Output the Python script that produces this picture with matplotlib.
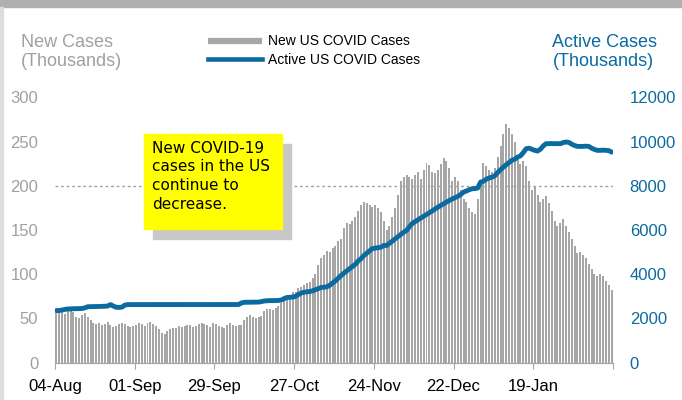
import matplotlib.pyplot as plt
import matplotlib.patches as mpatches
import matplotlib.lines as mlines
import pandas as pd

# daily data, 04-Aug-2020 .. 15-Feb-2021 (thousands)
dates = pd.date_range('2020-08-04', periods=196, freq='D')

new_cases = [
    56, 58, 57, 55, 58, 60, 57,
    52, 50, 54, 56, 52, 48, 45,
    44, 45, 43, 44, 46, 43, 40,
    42, 44, 45, 44, 42, 40, 41,
    43, 45, 44, 42, 45, 46, 44,
    41, 38, 34, 32, 36, 38, 39,
    39, 41, 40, 42, 43, 43, 40,
    41, 44, 45, 44, 43, 40, 45,
    44, 42, 40, 39, 43, 45, 43,
    42, 43, 43, 48, 52, 54, 52,
    51, 52, 53, 58, 61, 61, 60,
    62, 64, 68, 72, 74, 76, 80,
    80, 84, 86, 88, 90, 91, 96,
    100, 110, 118, 122, 126, 125, 130,
    132, 138, 140, 152, 158, 157, 160,
    165, 172, 178, 182, 180, 178, 176,
    178, 175, 170, 160, 150, 155, 165,
    175, 190, 205, 210, 212, 210, 208,
    212, 215, 208, 218, 226, 224, 215,
    214, 218, 225, 231, 228, 220, 205,
    210, 205, 195, 185, 182, 175, 170,
    168, 185, 205, 226, 222, 218, 215,
    220, 232, 245, 258, 270, 265, 258,
    250, 235, 225, 228, 222, 205, 195,
    200, 190, 182, 185, 188, 180, 172,
    160, 155, 158, 162, 155, 148, 140,
    132, 124, 125, 122, 118, 112, 106,
    100, 98, 100, 98, 92, 88, 82,
]

active_cases = [
    2355, 2360, 2380, 2410, 2430, 2430, 2440,
    2440, 2445, 2450, 2480, 2530, 2535, 2535,
    2540, 2540, 2545, 2550, 2560, 2626, 2560,
    2505, 2500, 2510, 2600, 2626, 2626, 2626,
    2626, 2626, 2628, 2626, 2626, 2626, 2626,
    2626, 2626, 2626, 2626, 2626, 2626, 2626,
    2626, 2626, 2626, 2626, 2626, 2626, 2626,
    2626, 2626, 2626, 2626, 2626, 2626, 2626,
    2626, 2626, 2626, 2626, 2626, 2626, 2626,
    2626, 2630, 2700, 2730, 2731, 2735, 2731,
    2735, 2740, 2760, 2790, 2800, 2807, 2805,
    2810, 2815, 2830, 2900, 2950, 2958, 2965,
    3000, 3080, 3150, 3185, 3200, 3220, 3250,
    3300, 3350, 3400, 3411, 3430, 3500, 3600,
    3700, 3820, 3940, 4050, 4150, 4250, 4350,
    4450, 4600, 4700, 4845, 4950, 5050, 5160,
    5180, 5200, 5220, 5300, 5300, 5400, 5500,
    5600, 5700, 5800, 5900, 5977, 6150, 6294,
    6380, 6460, 6540, 6620, 6700, 6780, 6860,
    6950, 7033, 7110, 7190, 7260, 7330, 7400,
    7460, 7520, 7600, 7713, 7760, 7820, 7864,
    7870, 7900, 8165, 8200, 8300, 8350, 8391,
    8450, 8600, 8720, 8844, 8950, 9050, 9150,
    9200, 9297, 9350, 9500, 9675, 9700, 9650,
    9600, 9569, 9650, 9800, 9902, 9902, 9910,
    9902, 9905, 9902, 9950, 9977, 9960, 9880,
    9820, 9780, 9780, 9780, 9790, 9780, 9700,
    9640, 9600, 9600, 9610, 9600, 9590, 9524,
]

tick_labels = ['04-Aug', '01-Sep', '29-Sep', '27-Oct', '24-Nov', '22-Dec', '19-Jan', '']
threshold = 200

gray = '#A6A6A6'
blue = '#0B6A9F'
label_gray = '#A0A0A0'

plt.rcParams['font.family'] = ['Liberation Sans', 'DejaVu Sans']

fig = plt.figure(figsize=(6.82, 4.0), dpi=100)
ax = fig.add_axes([0.0806, 0.0933, 0.8182, 0.6635])
ax2 = ax.twinx()

x = list(range(len(dates)))
ax.bar(x, new_cases, width=0.7, color=gray, zorder=2)
ax.axhline(threshold, color='#A0A0A0', linestyle=(0, (2, 2)), linewidth=1, zorder=1)
ax2.plot(x, active_cases, color=blue, linewidth=3.5, solid_capstyle='round')

ax.set_xlim(-0.5, len(dates) - 0.5)
ax.set_ylim(0, 300)
ax2.set_ylim(0, 12000)
ax.set_yticks(range(0, 301, 50))
ax2.set_yticks(range(0, 12001, 2000))

ax.set_xticks([-0.5 + 28 * k for k in range(len(tick_labels))])
ax.set_xticklabels(tick_labels, fontsize=12, color='black')
ax.tick_params(axis='x', direction='out', length=4, color=gray, pad=8)
ax.tick_params(axis='y', length=0, labelsize=12, labelcolor=label_gray, pad=12)
ax2.tick_params(axis='y', length=0, labelsize=12, labelcolor=blue, pad=12)

for a in (ax, ax2):
    for s in ('top', 'left', 'right'):
        a.spines[s].set_visible(False)
    a.spines['bottom'].set_color(gray)

# frame decorations
fig.patches.append(mpatches.Rectangle((0, 0.982), 1, 0.018, transform=fig.transFigure,
                                      color='#B0B0B0', zorder=0))
fig.patches.append(mpatches.Rectangle((0, 0), 0.0045, 0.982, transform=fig.transFigure,
                                      color='#DDDDDD', zorder=0))

# axis titles
fig.text(0.031, 0.87, 'New Cases\n(Thousands)', color=label_gray, fontsize=13,
         va='center', ha='left', linespacing=1.15)
fig.text(0.81, 0.87, 'Active Cases\n(Thousands)', color=blue, fontsize=13,
         va='center', ha='left', linespacing=1.15)

# legend
h_bar = mlines.Line2D([], [], color=gray, linewidth=4.5, solid_capstyle='butt')
h_line = mlines.Line2D([], [], color=blue, linewidth=3.3)
fig.legend([h_bar, h_line], ['New US COVID Cases', 'Active US COVID Cases'],
           loc='center', bbox_to_anchor=(0.46, 0.873), frameon=False, fontsize=10,
           handlelength=3.9, handletextpad=0.4, labelspacing=0.35)

# callout box with shadow
fig.patches.append(mpatches.Rectangle((0.2243, 0.4025), 0.2023, 0.2375,
                                      transform=fig.transFigure, color='#C8C8C8', zorder=5))
fig.patches.append(mpatches.Rectangle((0.2111, 0.4275), 0.2023, 0.2375,
                                      transform=fig.transFigure, color='#FFFF00', zorder=6))
fig.text(0.223, 0.648, 'New COVID-19\ncases in the US\ncontinue to\ndecrease.',
         fontsize=11, color='black', va='top', ha='left', linespacing=1.3,
         family=['DejaVu Sans'], zorder=7)

fig.savefig('out.png', dpi=100)
